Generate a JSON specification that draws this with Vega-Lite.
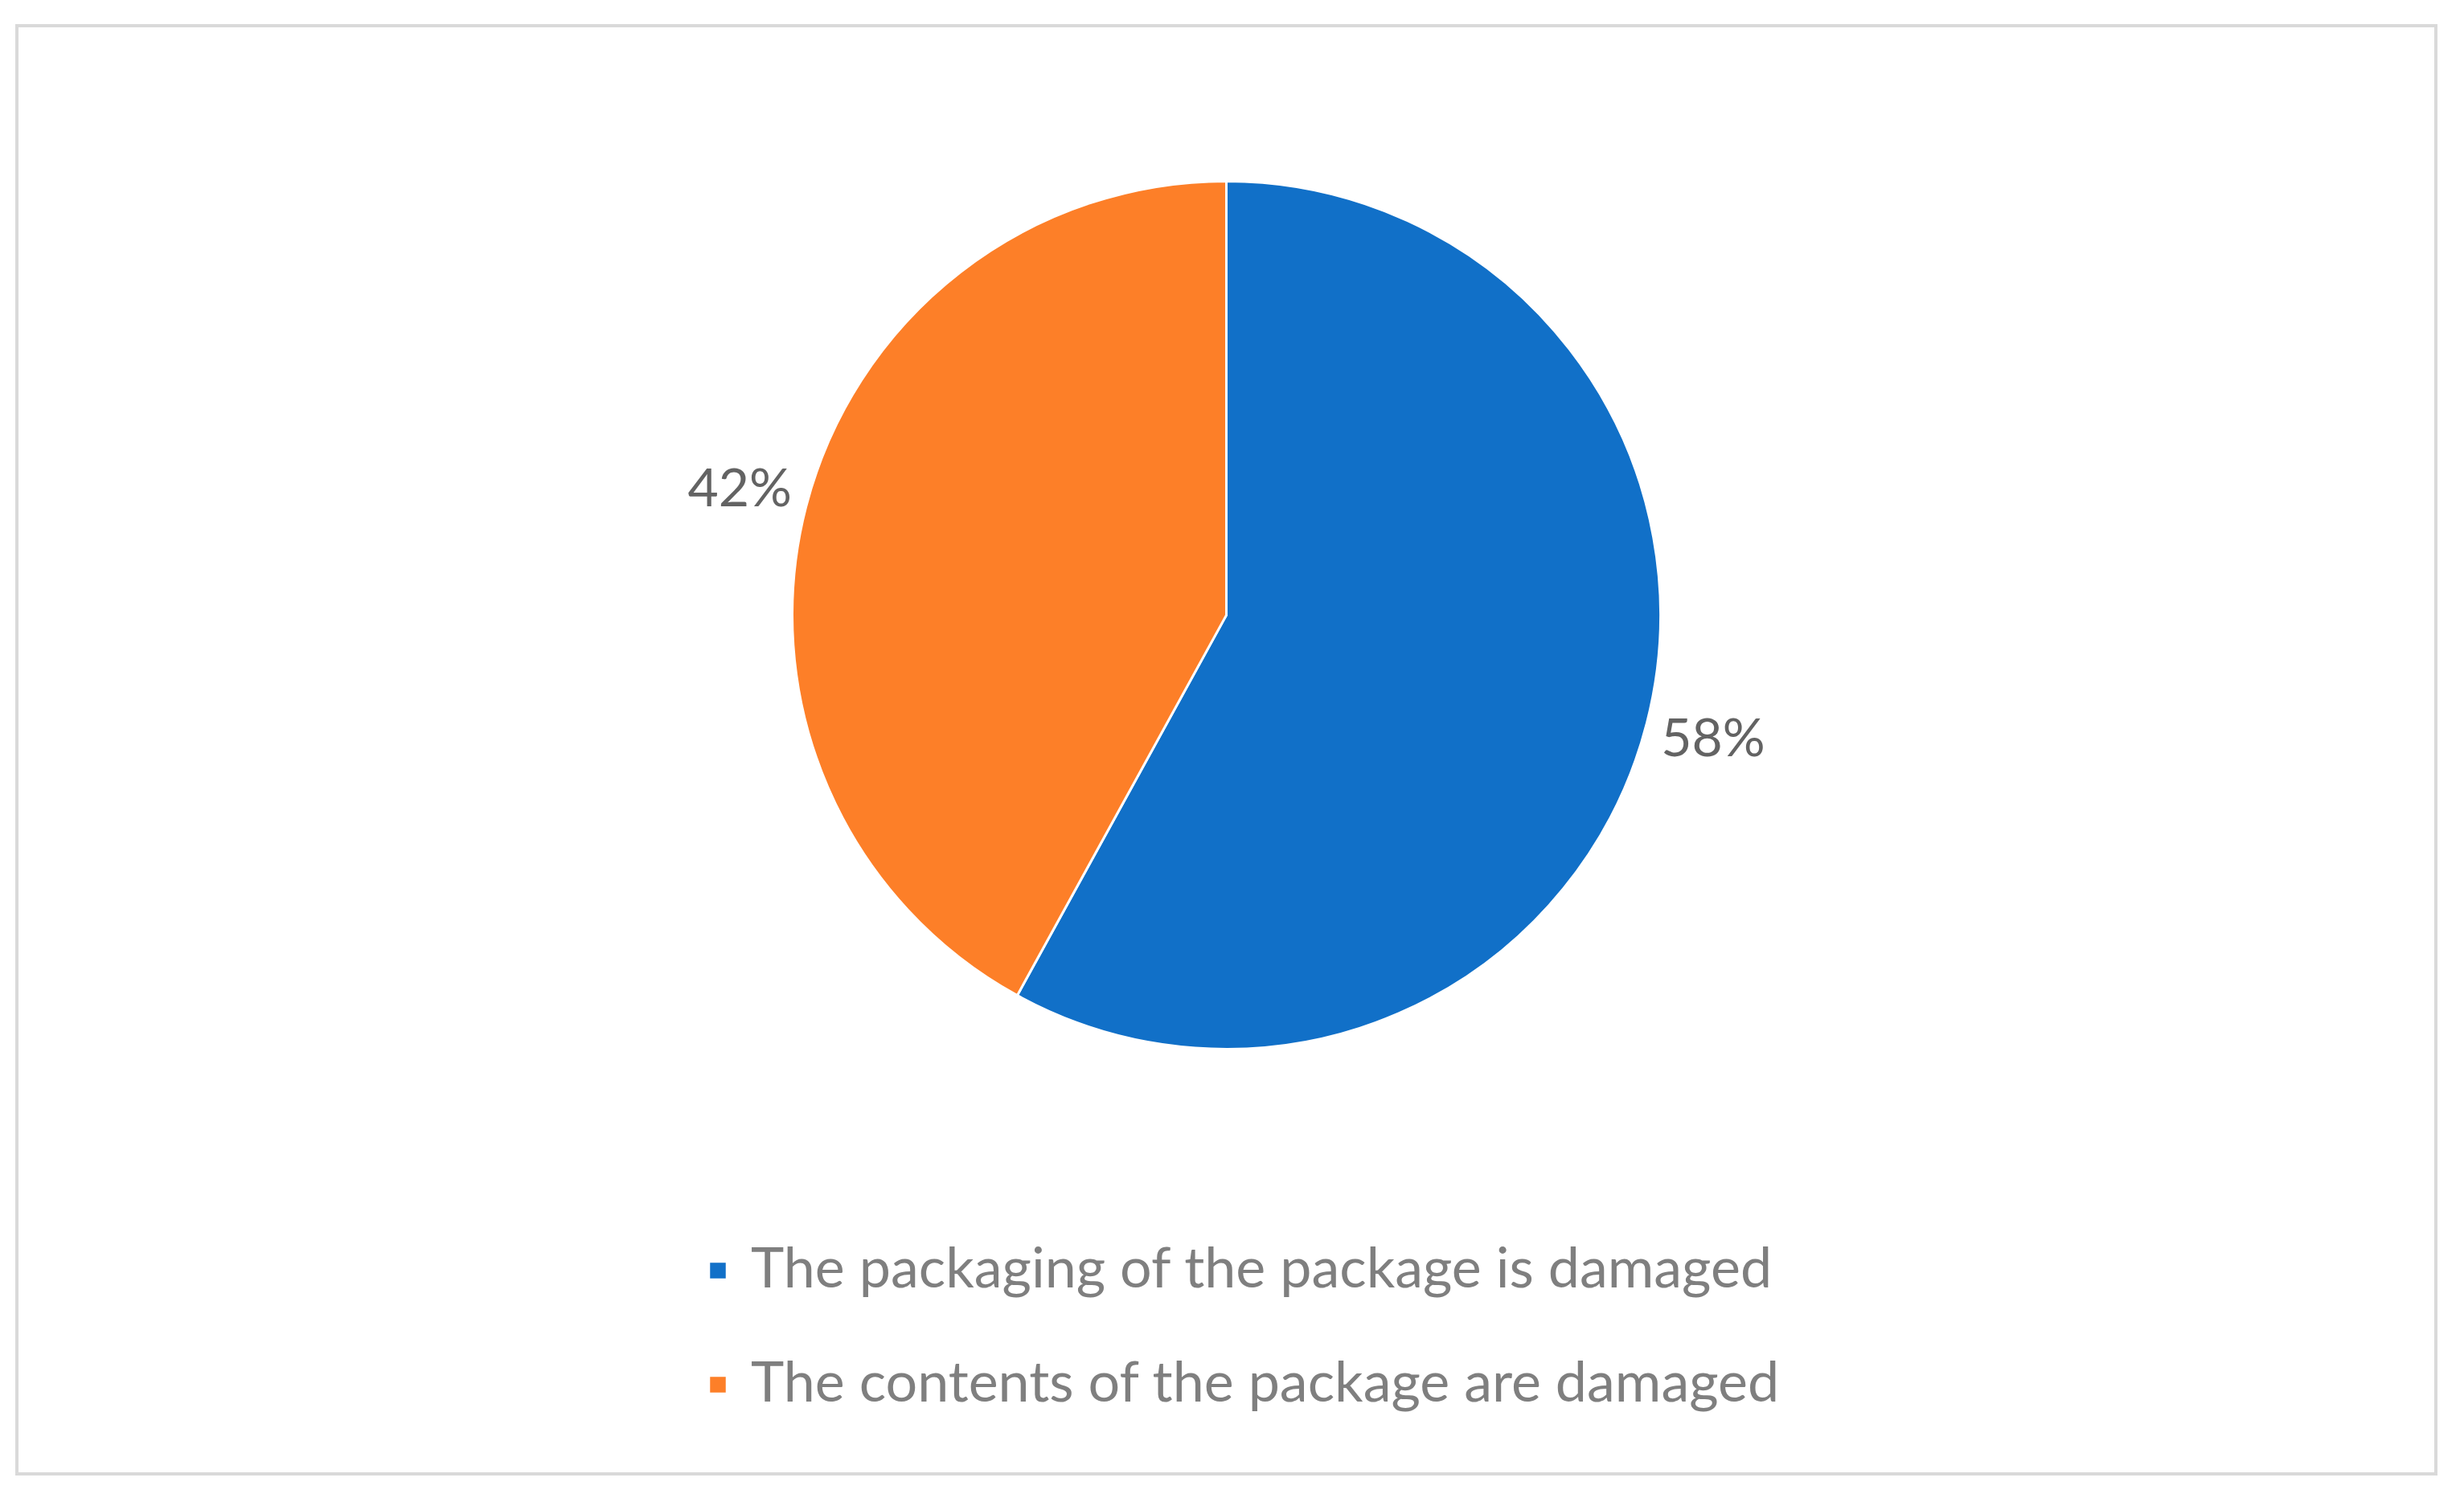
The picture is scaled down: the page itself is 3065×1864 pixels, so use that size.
{
  "$schema": "https://vega.github.io/schema/vega-lite/v6.json",
  "autosize": {"type": "fit", "contains": "padding"},
  "width": 3065,
  "height": 1864,
  "padding": {"left": 19, "top": 30, "right": 33, "bottom": 28},
  "background": "white",
  "config": {
    "view": {"stroke": null},
    "font": "Lato"
  },
  "data": {
    "values": [
      {"category": "The packaging of the package is damaged", "percent": 58, "label": "58%"},
      {"category": "The contents of the package are damaged", "percent": 42, "label": "42%"}
    ]
  },
  "layer": [
    {
      "mark": {"type": "rect", "fill": null, "fillOpacity": 0, "stroke": "#d9d9d9", "strokeWidth": 4},
      "encoding": {
        "x": {"value": 0},
        "x2": {"value": "width"},
        "y": {"value": 0},
        "y2": {"value": "height"}
      }
    },
    {
      "mark": {"type": "arc", "outerRadius": 540, "stroke": "white", "strokeWidth": 3, "y": {"expr": "height*0.407"}},
      "encoding": {
        "theta": {"field": "percent", "type": "quantitative", "stack": true},
        "order": {"field": "percent", "type": "quantitative", "sort": "descending"},
        "color": {
          "field": "category",
          "type": "nominal",
          "scale": {
            "domain": ["The packaging of the package is damaged", "The contents of the package are damaged"],
            "range": ["#1170c8", "#fd7f28"]
          },
          "legend": {
            "orient": "none",
            "legendX": 837,
            "legendY": 1514,
            "direction": "vertical",
            "title": null,
            "symbolType": "square",
            "symbolSize": 380,
            "symbolStrokeWidth": 0,
            "labelFontSize": 70,
            "labelColor": "#7f7f7f",
            "labelFont": "Lato",
            "labelLimit": 2000,
            "rowPadding": 72,
            "symbolOffset": 0,
            "labelOffset": 6
          }
        }
      }
    },
    {
      "mark": {"type": "text", "radius": 625, "fontSize": 66, "color": "#636363", "font": "Lato", "y": {"expr": "height*0.407"}},
      "encoding": {
        "theta": {"field": "percent", "type": "quantitative", "stack": true},
        "order": {"field": "percent", "type": "quantitative", "sort": "descending"},
        "text": {"field": "label", "type": "nominal"}
      }
    }
  ]
}
